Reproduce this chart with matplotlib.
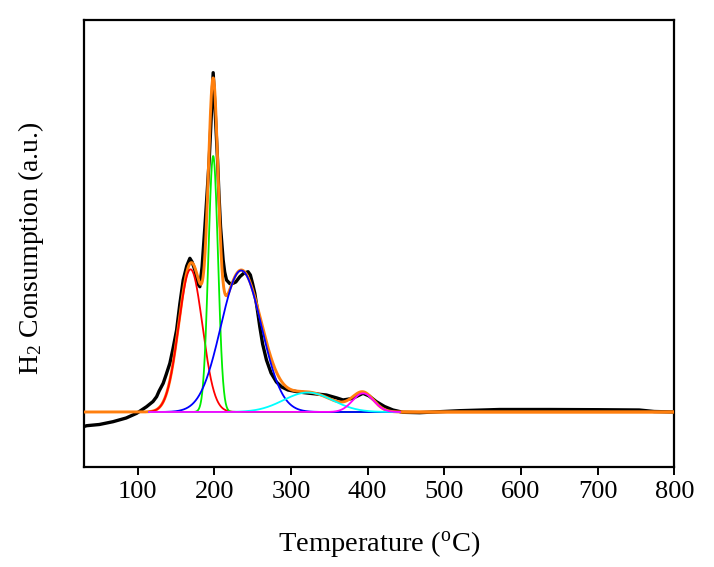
import numpy as np
import matplotlib
matplotlib.use("Agg")
import matplotlib.pyplot as plt

plt.rcParams['font.family'] = ['Liberation Serif', 'DejaVu Serif']
plt.rcParams['mathtext.fontset'] = 'custom'
plt.rcParams['mathtext.rm'] = 'Liberation Serif'
plt.rcParams['mathtext.it'] = 'Liberation Serif:italic'

# Experimental TPR profile (temperature in °C, signal in a.u.)
exp_temp = [30, 33.5, 50, 67.8, 85, 98.7, 111.6, 120, 124.7, 128, 133.3, 137, 142,
            146, 150.8, 155, 159.4, 164, 168.1, 171, 174.6, 177, 179.5, 181.1, 184,
            187.7, 190.5, 193.3, 196.4, 198.5, 201, 204.2, 206, 208.1, 211.5,
            213.5, 215.9, 220, 224.5, 228, 233.3, 238, 244, 247, 250, 252.8, 256,
            259.3, 263, 268, 274, 281, 288, 296, 310, 324.5, 346.2, 360, 367.9,
            380, 393.9, 402, 411.4, 422, 433, 446, 467.8, 493.8, 519.9, 572,
            637, 702, 754.2, 773.7, 800]
exp_signal = [-14.5, -13.7, -12.5, -9.7, -6, -1.3, 5.3, 10.5, 15.3, 21, 28.7, 37, 48.7,
              63, 82, 108, 132, 146, 153.7, 150, 142, 134, 127, 125.3, 145,
              185.3, 218, 252, 302, 339.3, 302, 252, 218, 185.3, 152,
              140, 132, 128.5, 128.7, 130, 135.3, 138.5, 140.3, 137, 128, 118.7, 103,
              85.3, 68, 52, 39, 30, 25, 22, 20, 18.7, 17, 14, 12,
              13.5, 18.7, 16, 10.3, 5.5, 2, -0.3, -0.7, 0.3, 1.3, 2.5,
              2.5, 2.3, 2.0, 0.5, 0]

# Gaussian deconvolution peaks: centre (°C), height (a.u.), sigma (°C)
peak_centers = [169, 198.5, 235, 322, 394]
peak_heights = [142.7, 256, 141.5, 19.5, 18.7]
peak_sigmas = [15.5, 6.3, 26.5, 32, 13.8]
peak_colors = ['#ff0000', '#00ee00', '#0000ff', '#00ffff', '#ff00ff']

fit_range = (115, 445)

xt = np.linspace(30, 800, 2000)
comps = [h * np.exp(-0.5 * ((xt - c) / s) ** 2)
         for c, h, s in zip(peak_centers, peak_heights, peak_sigmas)]
total = np.sum(comps, axis=0)

fig = plt.figure(figsize=(7.14, 5.67), dpi=100)
ax = fig.add_axes([84/714, 1 - 466.7/567, (674.3-84)/714, (466.7-20)/567])

ax.plot(exp_temp, exp_signal, color='black', lw=2.4, zorder=2,
        solid_joinstyle='round')
ax.plot(xt, total, color='#ff7f0e', lw=2.1, zorder=3)
mask = (xt >= fit_range[0]) & (xt <= fit_range[1])
for comp, col in zip(comps, peak_colors):
    ax.plot(xt[mask], comp[mask], color=col, lw=1.3, zorder=4)
ax.plot(xt, np.where(xt > fit_range[1], total, np.nan), color='#ff7f0e', lw=2.1, zorder=5)

ax.set_xlim(30, 800)
ax.set_ylim(-54.7, 392)
ax.set_xticks([100, 200, 300, 400, 500, 600, 700, 800])
ax.set_yticks([])
ax.tick_params(axis='x', direction='out', length=6, width=1.4, labelsize=19, pad=4)
for sp in ax.spines.values():
    sp.set_linewidth(1.6)

ax.set_xlabel('Temperature ($^\\mathrm{o}$C)', fontsize=20.5, labelpad=19)
ax.set_ylabel('H$_\\mathrm{2}$ Consumption (a.u.)', fontsize=20)
ax.yaxis.set_label_coords(-0.064, 0.49)

fig.savefig('out.png', dpi=100)
